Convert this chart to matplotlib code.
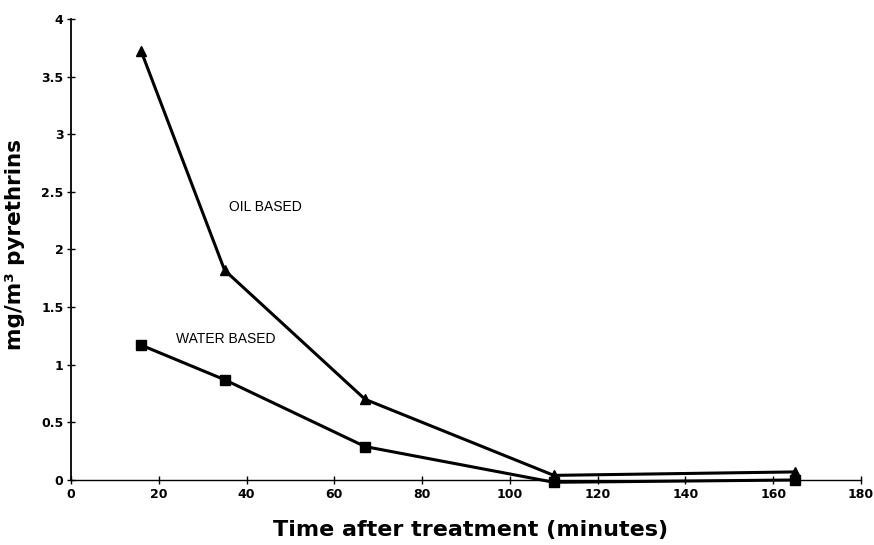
import matplotlib.pyplot as plt

# data
time_min = [16, 35, 67, 110, 165]
oil_based = [3.72, 1.82, 0.70, 0.04, 0.07]
water_based = [1.17, 0.87, 0.29, -0.02, 0.0]

x_ticks = [0, 20, 40, 60, 80, 100, 120, 140, 160, 180]
y_ticks = [0, 0.5, 1, 1.5, 2, 2.5, 3, 3.5, 4]
y_tick_labels = ['0', '0.5', '1', '1.5', '2', '2.5', '3', '3.5', '4']

plt.rcParams['font.family'] = ['Liberation Sans', 'DejaVu Sans']

fig = plt.figure(figsize=(8.74, 5.45), dpi=100)
ax = fig.add_axes([0.0812, 0.1193, 0.9040, 0.8459])

ax.plot(time_min, oil_based, color='black', lw=2.2, marker='^', ms=7, clip_on=False)
ax.plot(time_min, water_based, color='black', lw=2.2, marker='s', ms=6.5, clip_on=False)

ax.text(44.4, 2.37, 'OIL BASED', fontsize=10, ha='center', va='center')
ax.text(35.3, 1.22, 'WATER BASED', fontsize=10, ha='center', va='center')

ax.set_xlim(0, 180)
ax.set_ylim(0, 4)
ax.set_xticks(x_ticks)
ax.set_xticklabels([str(t) for t in x_ticks], fontsize=9, fontweight='bold', family='DejaVu Sans')
ax.set_yticks(y_ticks)
ax.set_yticklabels(y_tick_labels, fontsize=9, fontweight='bold', family='DejaVu Sans')
ax.tick_params(direction='inout', length=6, width=1, pad=2.5)

for s in ['top', 'right']:
    ax.spines[s].set_visible(False)
ax.spines['left'].set_linewidth(1.3)
ax.spines['bottom'].set_linewidth(1.0)

ax.set_xlabel('Time after treatment (minutes)', fontsize=16, fontweight='bold', family='DejaVu Sans')
ax.set_ylabel('mg/m³ pyrethrins', fontsize=15.5, fontweight='bold', family='DejaVu Sans')
ax.xaxis.set_label_coords(0.506, -0.087)
ax.yaxis.set_label_coords(-0.058, 0.51)

fig.savefig('out.png', dpi=100)
